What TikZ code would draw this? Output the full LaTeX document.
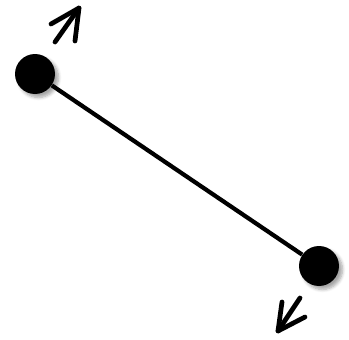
\documentclass[tikz,border=0pt]{standalone}
\usetikzlibrary{shadows.blur}

\begin{document}
\begin{tikzpicture}[
    x=0.02cm, y=-0.02cm,
    ball/.style={
        circle, fill=black, draw=none,
        minimum size=0.8cm, inner sep=0pt,
        blur shadow={shadow xshift=2pt, shadow yshift=-2pt, shadow blur steps=6, shadow opacity=35}
    },
    rod/.style={line width=2.4pt, draw=black},
    push/.style={line width=2.7pt, line cap=round, line join=round}
]
\useasboundingbox (0,0) rectangle (349,339);

% the two end masses
\node[ball] (Left) at (35,74) {};
\node[ball] (Right) at (319,266) {};
\draw[rod] (Left) -- (Right);

% velocity arrows, drawn by hand
\coordinate (LeftTail) at (55,42);
\coordinate (LeftTip) at (79,8);
\coordinate (LeftBarbA) at (51,24);
\coordinate (LeftBarbB) at (75,41);
\draw[push] (LeftTail) -- (LeftTip);
\draw[push] (LeftBarbA) -- (LeftTip) -- (LeftBarbB);

\coordinate (RightTail) at (300,298);
\coordinate (RightTip) at (278,331);
\coordinate (RightBarbA) at (282,302);
\coordinate (RightBarbB) at (305,317);
\draw[push] (RightTail) -- (RightTip);
\draw[push] (RightBarbA) -- (RightTip) -- (RightBarbB);

\end{tikzpicture}
\end{document}
